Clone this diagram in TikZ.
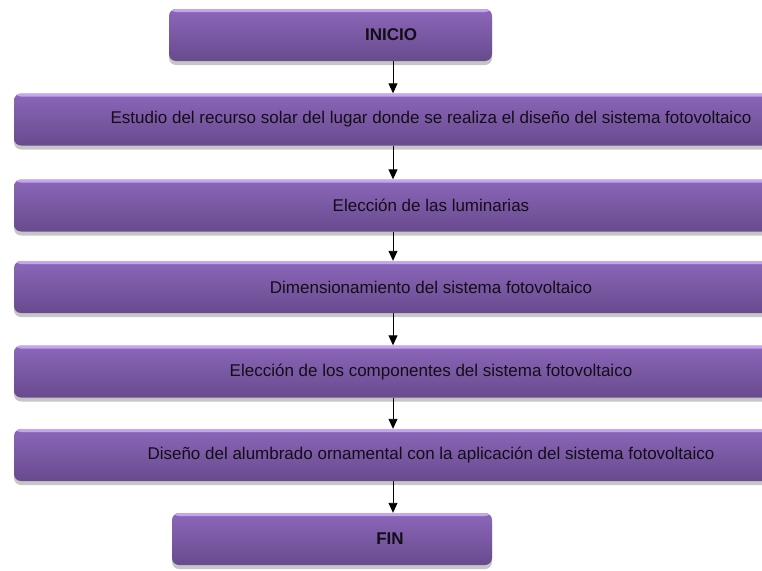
\documentclass[tikz,border=0pt]{standalone}
\usepackage{fontspec}
\setmainfont{Liberation Sans}
\usetikzlibrary{arrows.meta,shadows}
\definecolor{flowtop}{RGB}{140,103,186}
\definecolor{flowbottom}{RGB}{104,74,142}
\definecolor{flowrim}{RGB}{196,166,240}
\definecolor{flowtext}{RGB}{18,14,22}
\tikzset{
  flow box/.style={
    rectangle, rounded corners=7pt, inner sep=0pt,
    top color=flowtop, bottom color=flowbottom,
    minimum height=52pt,
    drop shadow={shadow xshift=0pt, shadow yshift=-4pt, opacity=0.45},
    path picture={\fill[flowrim] ([yshift=2pt]path picture bounding box.north west)
      rectangle ([yshift=-3pt]path picture bounding box.north east);}
  },
  flow label/.style={text=flowtext, inner sep=0pt, font=\fontsize{17}{19}\selectfont},
  flow arrow/.style={-{Triangle[length=10pt,width=9pt]}, line width=0.9pt, black}
}

\begin{document}
\begin{tikzpicture}[x=1pt, y=-1pt]
  \useasboundingbox (0,0) rectangle (762,570);
  \clip (0,0) rectangle (762,570);
  \coordinate (axis) at (393,0);
  % boxes
  \node[flow box, minimum width=323pt] (inicio) at (330.5,35) {};
  \node[flow box, minimum width=761pt] (estudio) at (394.5,119.5) {};
  \node[flow box, minimum width=761pt] (eleccion) at (394.5,205.5) {};
  \node[flow box, minimum width=761pt] (dimension) at (394.5,287) {};
  \node[flow box, minimum width=761pt] (componentes) at (394.5,371.5) {};
  \node[flow box, minimum width=761pt] (diseno) at (394.5,455) {};
  \node[flow box, minimum width=320pt] (fin) at (332,539) {};
  % labels
  \node[flow label, font=\fontsize{17}{19}\selectfont\bfseries] (inicio text) at (391,35) {INICIO};
  \node[flow label] (estudio text) at (431,119.5) {Estudio del recurso solar del lugar donde se realiza el diseño del sistema fotovoltaico};
  \node[flow label] (eleccion text) at (431,205.5) {Elección de las luminarias};
  \node[flow label] (dimension text) at (431,287) {Dimensionamiento del sistema fotovoltaico};
  \node[flow label] (componentes text) at (431,371.5) {Elección de los componentes del sistema fotovoltaico};
  \node[flow label] (diseno text) at (431,455) {Diseño del alumbrado ornamental con la aplicación del sistema fotovoltaico};
  \node[flow label, font=\fontsize{17}{19}\selectfont\bfseries] (fin text) at (390,539) {FIN};
  % arrows
  \draw[flow arrow] (inicio.south -| axis) -- (estudio.north -| axis);
  \draw[flow arrow] (estudio.south -| axis) -- (eleccion.north -| axis);
  \draw[flow arrow] (eleccion.south -| axis) -- (dimension.north -| axis);
  \draw[flow arrow] (dimension.south -| axis) -- (componentes.north -| axis);
  \draw[flow arrow] (componentes.south -| axis) -- (diseno.north -| axis);
  \draw[flow arrow] (diseno.south -| axis) -- (fin.north -| axis);
\end{tikzpicture}
\end{document}
